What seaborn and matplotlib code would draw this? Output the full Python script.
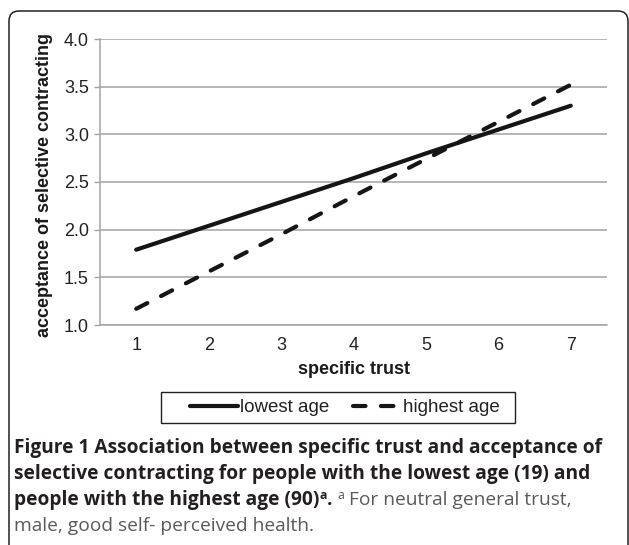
import matplotlib
matplotlib.use('Agg')
import matplotlib.pyplot as plt
import matplotlib.transforms as mtransforms
from matplotlib.patches import FancyBboxPatch, Rectangle
from matplotlib.ticker import FixedLocator
import seaborn as sns
import pandas as pd
import numpy as np

# values
trust = [1, 2, 3, 4, 5, 6, 7]
lowest_age = [1.79, 2.04, 2.29, 2.54, 2.80, 3.05, 3.30]
highest_age = [1.17, 1.56, 1.95, 2.35, 2.74, 3.13, 3.52]
series_names = ['lowest age', 'highest age']
y_ticks = [1.0, 1.5, 2.0, 2.5, 3.0, 3.5, 4.0]

df = pd.DataFrame({
    'specific trust': trust * 2,
    'acceptance': lowest_age + highest_age,
    'group': [series_names[0]] * len(trust) + [series_names[1]] * len(trust),
})

sns.set_style('white')
plt.rcParams['font.family'] = ['Liberation Sans', 'DejaVu Sans']

W, H = 629, 545
fig = plt.figure(figsize=(W / 100, H / 100), dpi=100)
ax = fig.add_axes([100 / W, 1 - 325 / H, 507 / W, 286 / H])

sns.lineplot(data=df, x='specific trust', y='acceptance', hue='group', style='group',
             hue_order=series_names, style_order=series_names,
             palette={series_names[0]: '#151515', series_names[1]: '#151515'},
             dashes={series_names[0]: '', series_names[1]: (3, 3.7)},
             linewidth=3, ax=ax, legend=False)
for ln in ax.get_lines():
    ln.set_dash_capstyle('round')
    ln.set_solid_capstyle('round')

grey = '#a3a3a3'
ax.set_xlim(0.5, 7.5)
ax.set_ylim(1.0, 4.0)
ax.set_xticks(trust)
ax.set_xticklabels([str(t) for t in trust])
ax.xaxis.set_minor_locator(FixedLocator(np.arange(0.5, 8, 1)))
ax.set_yticks(y_ticks)
ax.set_yticklabels([f'{v:.1f}' for v in y_ticks])
ax.tick_params(axis='x', which='major', length=0, pad=9, labelsize=13, labelcolor='#222222')
ax.tick_params(axis='x', which='minor', length=4, width=1, color=grey, direction='out')
ax.tick_params(axis='y', length=4.5, width=1, color=grey, pad=3.5, labelsize=13,
               labelcolor='#222222', left=True)
ax.yaxis.grid(True, color=grey, lw=1.1)
ax.xaxis.grid(False)
for s in ['top', 'right']:
    ax.spines[s].set_visible(False)
for s in ['left', 'bottom']:
    ax.spines[s].set_color(grey)
    ax.spines[s].set_linewidth(1.1)

ax.set_xlabel('specific trust', fontsize=13, fontweight='bold', color='#1a1a1a')
ax.set_ylabel('acceptance of selective contracting', fontsize=13, fontweight='bold', color='#1a1a1a')
ax.xaxis.set_label_coords(0.5, (325 - 361) / 286)
ax.yaxis.set_label_coords((53 - 100) / 507, 0.49)

# legend
handles = ax.get_lines()[:2]
fig.legend(handles, series_names, loc='center', bbox_to_anchor=(345 / W, 1 - 407.5 / H),
           ncol=2, frameon=False, borderpad=0, handlelength=2.56, handletextpad=0.1,
           columnspacing=1.25, fontsize=13.5, labelcolor='#222222')
fig.patches.append(Rectangle((161 / W, 1 - 423 / H), 354 / W, 31 / H, transform=fig.transFigure,
                             fill=False, edgecolor='#222222', lw=1.0))

# outer rounded panel
fig.patches.append(FancyBboxPatch((9, -20), 619, H - 11 + 20,
                                  boxstyle='round,pad=0,rounding_size=10',
                                  transform=mtransforms.IdentityTransform(),
                                  fill=False, edgecolor='#222222', lw=1.1))

# caption
renderer = fig.canvas.get_renderer()
cap_font = ['Open Sans', 'DejaVu Sans']
dark = '#231f20'
light = '#5a5a5a'

probe = fig.text(0, 0, 'Figure 1 Association between specific trust and acceptance of',
                 family=cap_font, fontweight='bold', fontsize=12)
fs = 12 * 584 / probe.get_window_extent(renderer).width
probe.remove()


def put(x, y, s, size=fs, weight='normal', color=dark, raise_px=0):
    t = fig.text(x / W, 1 - (y - raise_px) / H, s, ha='left', va='baseline',
                 family=cap_font, fontsize=size, fontweight=weight, color=color)
    return x + t.get_window_extent(renderer).width


put(14, 453, 'Figure 1 Association between specific trust and acceptance of', weight='bold')
put(14, 479, 'selective contracting for people with the lowest age (19) and', weight='bold')
x = put(14, 505, 'people with the highest age (90)', weight='bold')
x = put(x, 505, 'a', size=fs * 0.65, weight='bold', raise_px=6)
x = put(x, 505, '.', weight='bold')
x = put(x + 5, 505, 'a', size=fs * 0.65, color=light, raise_px=6)
put(x, 505, ' For neutral general trust,', color=light)
put(14, 531, 'male, good self- perceived health.', color=light)

fig.savefig('out.png', dpi=100)
